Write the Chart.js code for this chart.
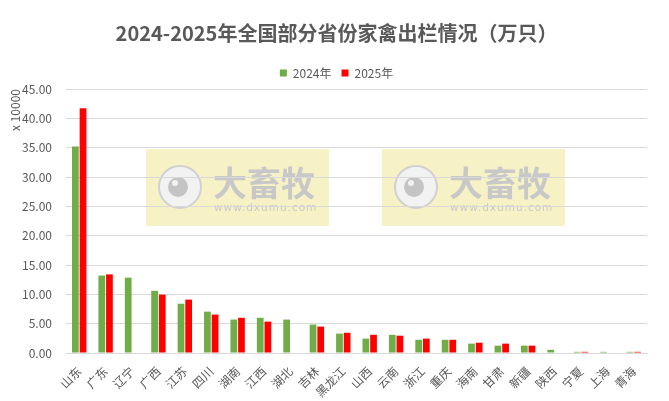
<!DOCTYPE html>
<html>
<head>
<meta charset="utf-8">
<script src="https://cdn.jsdelivr.net/npm/chart.js@4/dist/chart.umd.min.js"></script>
<style>
  html, body { margin: 0; padding: 0; background: #fff; }
  #wrap { width: 669px; height: 401px; }
</style>
</head>
<body>
<div id="wrap"><canvas id="myChart"></canvas></div>
<script>
// 省份
var provinces = ['山东', '广东', '辽宁', '广西', '江苏', '四川', '湖南', '江西', '湖北', '吉林', '黑龙江', '山西',
    '云南', '浙江', '重庆', '海南', '甘肃', '新疆', '陕西', '宁夏', '上海', '青海'];
// 出栏量（x 10000 万只）
var values2024 = [35.2, 13.2, 12.85, 10.6, 8.4, 7.05, 5.7, 6.0, 5.7, 4.85, 3.3, 2.45, 3.1, 2.25, 2.25, 1.6, 1.25, 1.25, 0.55, 0.2, 0.2, 0.2];
var values2025 = [41.7, 13.4, null, 9.95, 9.1, 6.55, 6.0, 5.35, null, 4.5, 3.45, 3.1, 2.95, 2.45, 2.25, 1.75, 1.6, 1.25, null, 0.2, null, 0.2];
var yTicks = [0, 5, 10, 15, 20, 25, 30, 35, 40, 45];

var textColor = '#595959';
var fontFamily = '"Noto Sans CJK SC", "Noto Sans", sans-serif';

// 水印（大畜牧）
var watermark = {
    id: 'watermark',
    beforeDraw: function (chart) {
        var ctx = chart.ctx;
        [146, 382].forEach(function (x) {
            ctx.save();
            ctx.fillStyle = '#f7f2c6';
            ctx.fillRect(x, 149, 183, 77);
            ctx.strokeStyle = '#d0d0d0';
            ctx.lineWidth = 2;
            ctx.fillStyle = '#f2f2f2';
            ctx.beginPath();
            ctx.arc(x + 34, 187, 21, 0, Math.PI * 2);
            ctx.fill();
            ctx.stroke();
            ctx.fillStyle = '#c4c4c4';
            ctx.beginPath();
            ctx.arc(x + 32, 187, 10, 0, Math.PI * 2);
            ctx.fill();
            ctx.fillStyle = '#f2f2f2';
            ctx.beginPath();
            ctx.arc(x + 29, 183, 3, 0, Math.PI * 2);
            ctx.fill();
            ctx.fillStyle = '#c8c8c8';
            ctx.font = 'bold 34px ' + fontFamily;
            ctx.textBaseline = 'middle';
            ctx.fillText('大畜牧', x + 67, 183);
            ctx.font = '10.5px "DejaVu Sans", sans-serif';
            ctx.letterSpacing = '1px';
            ctx.fillText('www.dxumu.com', x + 68, 208);
            ctx.restore();
        });
    }
};

var ctx = document.getElementById('myChart').getContext('2d');
var myChart = new Chart(ctx, {
    type: 'bar',
    data: {
        labels: provinces,
        datasets: [{
            label: '2024年',
            data: values2024,
            backgroundColor: '#70ad47',
            categoryPercentage: 0.58,
            barPercentage: 0.88
        }, {
            label: '2025年',
            data: values2025,
            backgroundColor: '#ff0000',
            categoryPercentage: 0.58,
            barPercentage: 0.88
        }]
    },
    options: {
        responsive: true,
        maintainAspectRatio: false,
        animation: false,
        layout: { padding: { left: 26, right: 22, top: 21, bottom: 0 } },
        plugins: {
            title: {
                display: true,
                text: '2024-2025年全国部分省份家禽出栏情况（万只）',
                color: textColor,
                font: { family: fontFamily, size: 20, weight: 'bold' },
                padding: { top: 0, bottom: 12 }
            },
            legend: {
                labels: {
                    boxWidth: 7,
                    boxHeight: 7,
                    padding: 10,
                    color: textColor,
                    font: { family: fontFamily, size: 12 }
                }
            },
            tooltip: { enabled: false }
        },
        scales: {
            x: {
                grid: { display: false },
                border: { color: '#d9d9d9' },
                afterFit: function (scale) { scale.height = 48; },
                ticks: {
                    color: textColor,
                    autoSkip: false,
                    maxRotation: 45,
                    minRotation: 45,
                    font: { family: fontFamily, size: 12 }
                }
            },
            y: {
                min: 0,
                max: 45,
                afterBuildTicks: function (scale) {
                    scale.ticks = yTicks.map(function (v) { return { value: v }; });
                },
                afterFit: function (scale) {
                    scale.width = 40;
                    // 刻度文字超出坐标轴宽度时不要裁剪
                    scale._computeLabelArea = function () { return undefined; };
                },
                grid: { color: '#d9d9d9', drawTicks: false },
                border: { display: false },
                title: {
                    display: true,
                    text: 'x 10000',
                    align: 'end',
                    color: textColor,
                    font: { family: fontFamily, size: 12 },
                    padding: { top: -18, bottom: 0 }
                },
                ticks: {
                    color: textColor,
                    padding: 14,
                    font: { family: fontFamily, size: 12 },
                    callback: function (v) { return v.toFixed(2); }
                }
            }
        }
    },
    plugins: [watermark]
});
</script>
</body>
</html>
